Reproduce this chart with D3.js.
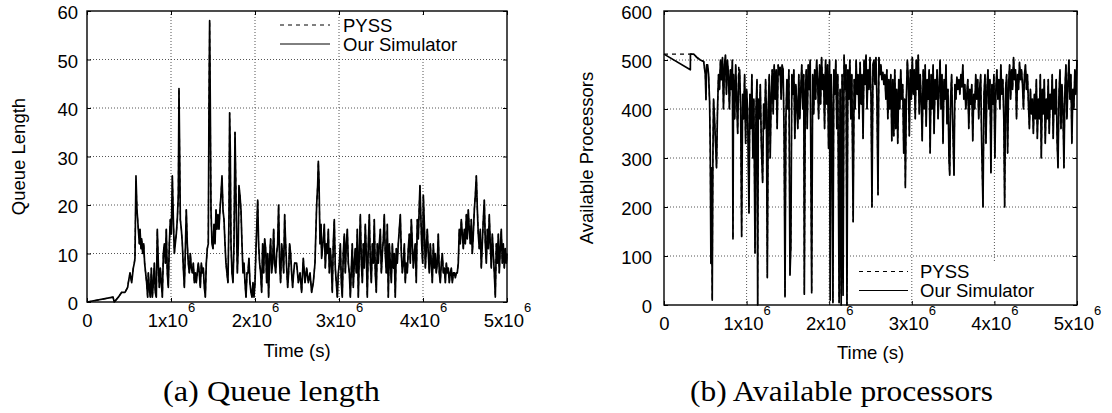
<!DOCTYPE html>
<html><head><meta charset="utf-8">
<script src="https://cdn.jsdelivr.net/npm/d3@7"></script>
<style>html,body{margin:0;padding:0;background:#fff}svg{display:block}</style>
</head><body>
<svg id="c" width="1112" height="413"></svg>
<script>
// ---------------- DATA ----------------
const xTicks = [0, 1e6, 2e6, 3e6, 4e6, 5e6];
const xTickMant = ["0", "1", "2", "3", "4", "5"];
const xTickExp = "6";
const queueTicks = [0, 10, 20, 30, 40, 50, 60];
const procTicks = [0, 100, 200, 300, 400, 500, 600];
const legendLabels = ["PYSS", "Our Simulator"];
const yTitles = ["Queue Length", "Available Processors"];
const xTitle = "Time (s)";
const captions = ["(a) Queue length", "(b) Available processors"];

// time in thousands of seconds
const queueTime = [
0,310,325,373,413,452,484,492,512,532,
551,563,571,583,595,603,611,623,631,643,
651,663,675,686,698,710,722,730,742,754,
766,778,790,802,813,825,837,849,861,873,
885,897,909,921,933,944,956,968,980,992,
1004,1016,1028,1040,1051,1063,1075,1087,1095,1103,
1111,1123,1135,1147,1159,1170,1182,1194,1206,1218,
1230,1242,1254,1266,1278,1290,1301,1313,1325,1337,
1349,1361,1373,1385,1397,1409,1420,1432,1444,1452,
1460,1468,1476,1488,1500,1512,1524,1536,1547,1559,
1571,1583,1595,1607,1619,1631,1643,1654,1666,1678,
1690,1698,1706,1714,1726,1738,1750,1762,1770,1778,
1790,1801,1809,1821,1833,1845,1857,1869,1881,1893,
1905,1916,1928,1940,1952,1964,1976,1988,2000,2012,
2024,2032,2043,2055,2067,2079,2091,2103,2115,2127,
2139,2151,2162,2174,2186,2198,2210,2222,2234,2246,
2258,2270,2281,2293,2305,2317,2329,2341,2353,2365,
2377,2389,2400,2412,2424,2436,2448,2460,2472,2496,
2516,2536,2555,2575,2595,2615,2635,2655,2674,2694,
2714,2734,2746,2754,2762,2774,2786,2793,2813,2825,
2837,2849,2861,2873,2885,2897,2908,2920,2932,2944,
2956,2968,2980,2992,3004,3016,3028,3039,3051,3063,
3075,3087,3099,3111,3123,3135,3147,3158,3170,3182,
3194,3206,3218,3230,3242,3254,3266,3278,3289,3301,
3313,3325,3337,3349,3361,3373,3385,3397,3409,3420,
3432,3444,3456,3468,3480,3492,3504,3516,3528,3539,
3551,3563,3575,3587,3599,3611,3623,3635,3647,3658,
3670,3682,3694,3706,3718,3730,3742,3754,3766,3778,
3789,3801,3813,3825,3837,3849,3861,3873,3885,3897,
3908,3920,3932,3944,3956,3964,3972,3984,3996,4004,
4016,4028,4039,4051,4063,4075,4087,4099,4111,4123,
4135,4147,4158,4170,4182,4194,4206,4218,4230,4242,
4254,4266,4278,4290,4301,4313,4325,4337,4349,4361,
4373,4385,4397,4408,4420,4432,4444,4456,4468,4480,
4492,4504,4516,4527,4539,4551,4563,4575,4587,4599,
4611,4623,4635,4647,4658,4670,4682,4694,4706,4718,
4730,4742,4754,4766,4778,4789,4801,4813,4825,4837,
4849,4861,4873,4885,4897,4908,4920,4932,4944,4956,
4968,4980,4992,5000];

const queueSim = [
0,1,0,1,2,2,3,4,6,4,
7,8,9,26,19,17,15,12,15,11,
13,10,12,8,6,4,1,6,3,1,
7,1,4,8,2,1,15,8,3,7,
4,1,10,12,8,15,6,3,12,17,
14,26,17,10,12,14,17,22,44,31,
17,15,12,7,3,10,19,12,8,6,
10,7,6,8,4,6,4,6,8,6,
3,8,6,7,3,1,8,11,12,40,
58,40,19,12,11,16,12,19,15,18,
15,19,22,26,19,17,12,8,6,4,
17,39,31,12,6,4,12,35,26,17,
6,12,24,22,19,12,6,8,4,1,
6,6,9,4,2,1,4,1,4,11,
17,21,12,8,6,2,12,6,13,11,
4,10,1,9,13,6,8,15,8,6,
10,12,20,8,4,12,10,6,18,12,
7,3,6,12,10,6,3,6,8,8,
4,6,2,9,4,7,4,6,2,4,
8,20,24,29,25,12,16,9,13,16,
7,12,10,15,6,11,8,2,12,17,
7,4,1,6,8,12,4,1,10,14,
6,12,15,8,6,1,7,12,3,8,
11,6,15,1,10,18,8,4,12,7,
16,10,1,12,18,8,4,12,8,17,
6,2,12,8,12,15,6,10,13,18,
10,6,16,1,12,8,4,12,7,10,
1,11,8,12,15,18,10,6,8,12,
4,8,6,11,14,8,17,12,7,10,
12,4,17,13,20,24,19,12,8,22,
16,7,11,15,10,6,12,8,4,12,
7,10,6,8,14,6,4,8,10,6,
7,4,8,6,7,4,6,7,4,6,
6,5,6,6,8,15,12,17,14,11,
15,12,18,13,19,15,12,17,10,14,
19,22,26,19,14,11,15,7,12,17,
21,12,8,15,11,18,12,7,14,10,
6,1,12,8,14,6,11,15,8,12,
7,11,8,10];

const queuePyss = [
0,1,0,1,2,2,3,4,6,4,
7,8,9,25,19,17,15,12,15,11,
13,10,12,8,6,4,1,6,3,1,
7,1,4,8,2,1,15,8,3,7,
4,1,10,12,8,15,6,3,12,17,
14,26,17,10,12,14,17,22,44,30,
17,15,12,7,3,10,19,12,8,6,
10,7,6,8,4,6,4,6,8,6,
3,8,6,7,3,1,8,11,12,40,
58,40,19,12,11,16,12,19,15,18,
15,19,22,26,19,17,12,8,6,4,
17,39,31,12,6,4,12,35,26,17,
6,12,24,22,19,12,6,8,4,1,
6,6,9,4,2,1,4,1,4,11,
17,21,12,8,6,2,12,6,13,11,
4,10,1,9,13,6,8,15,8,6,
10,12,20,8,4,12,10,6,18,12,
7,3,6,12,10,6,3,6,8,8,
4,6,2,9,4,7,4,6,2,4,
8,20,24,29,25,12,16,9,13,16,
7,12,10,15,6,11,8,2,12,17,
7,4,1,6,8,12,4,1,10,14,
6,12,15,8,6,1,7,12,3,8,
11,6,15,1,10,18,8,4,12,7,
16,10,1,12,18,8,4,12,8,17,
6,2,12,8,12,15,6,10,13,18,
10,6,16,1,12,8,4,12,7,10,
1,11,8,12,15,18,10,6,8,12,
4,8,6,11,14,8,17,12,7,10,
12,4,17,13,20,24,19,12,8,22,
16,7,11,15,10,6,12,8,4,12,
7,10,6,8,14,6,4,8,10,6,
7,4,8,6,7,4,6,7,4,6,
6,5,6,6,8,15,12,17,14,11,
15,12,18,13,19,15,12,17,10,14,
19,22,26,19,14,11,15,7,12,17,
21,12,8,15,11,18,12,7,14,10,
6,1,12,8,14,6,11,15,8,12,
7,11,8,10];

const procTime = [
0,319,320,360,400,440,480,500,508,516,
528,540,552,560,568,576,584,592,600,612,
624,636,648,660,672,684,696,708,720,732,
744,756,768,780,792,804,816,828,835,842,
856,868,880,892,904,916,928,940,952,964,
976,988,1000,1012,1029,1040,1052,1064,1076,1088,
1102,1114,1126,1134,1142,1154,1166,1178,1194,1206,
1218,1230,1240,1251,1262,1274,1286,1298,1310,1322,
1334,1346,1358,1370,1382,1394,1406,1418,1430,1442,
1454,1465,1476,1488,1500,1512,1525,1536,1548,1560,
1572,1584,1596,1608,1620,1632,1644,1656,1668,1680,
1692,1699,1710,1722,1734,1746,1758,1770,1788,1800,
1812,1824,1836,1848,1860,1872,1884,1896,1908,1920,
1932,1944,1956,1968,1980,1992,2004,2012,2024,2036,
2045,2056,2068,2080,2092,2104,2120,2132,2145,2156,
2168,2180,2192,2204,2215,2226,2238,2250,2262,2274,
2290,2302,2314,2326,2338,2350,2362,2374,2386,2398,
2410,2422,2434,2446,2458,2470,2482,2494,2506,2518,
2530,2542,2554,2566,2578,2591,2602,2614,2626,2638,
2650,2662,2674,2686,2698,2710,2722,2734,2746,2758,
2770,2782,2794,2806,2818,2830,2842,2854,2866,2878,
2890,2902,2914,2922,2934,2946,2958,2970,2982,2994,
3006,3018,3030,3042,3054,3066,3078,3090,3102,3114,
3126,3138,3150,3162,3174,3186,3198,3210,3222,3234,
3246,3258,3270,3282,3294,3306,3318,3330,3342,3354,
3366,3378,3390,3402,3414,3426,3438,3450,3459,3470,
3482,3494,3511,3522,3534,3546,3558,3570,3582,3594,
3606,3618,3630,3642,3654,3666,3678,3690,3702,3714,
3726,3738,3750,3762,3774,3786,3798,3810,3822,3834,
3846,3862,3874,3886,3898,3910,3922,3934,3946,3958,
3970,3982,3994,4006,4018,4030,4042,4054,4066,4078,
4090,4102,4114,4124,4136,4148,4160,4172,4184,4196,
4208,4220,4232,4244,4256,4268,4280,4292,4304,4316,
4328,4340,4352,4364,4376,4388,4400,4412,4424,4436,
4448,4460,4472,4484,4496,4508,4520,4532,4544,4556,
4568,4580,4592,4604,4616,4628,4640,4652,4664,4676,
4688,4700,4712,4724,4736,4748,4760,4770,4782,4794,
4806,4818,4830,4842,4854,4866,4878,4890,4902,4914,
4926,4938,4950,4962,4974,4986,5000];

const procSim = [
512,480,512,512,505,500,497,470,419,490,
490,470,415,320,85,280,10,300,420,380,
330,280,400,470,440,500,460,505,400,490,
510,430,500,470,400,480,440,500,135,470,
380,490,420,350,470,480,400,140,430,380,
470,330,440,400,188,430,360,470,300,420,
106,400,460,0,420,380,450,330,250,410,
360,460,390,56,400,470,300,430,480,390,
490,420,480,360,490,470,485,420,490,480,
350,17,380,460,400,480,61,120,470,430,
480,340,450,410,360,470,380,440,490,400,
470,22,420,480,360,490,440,500,25,470,
390,480,420,500,460,380,490,410,505,440,
470,360,500,410,490,320,500,10,470,380,
5,480,430,500,360,470,5,440,0,470,
20,510,440,490,0,480,420,500,380,470,
170,460,400,500,430,470,380,495,410,470,
340,500,450,510,400,480,440,505,430,200,
490,500,450,505,420,225,505,470,490,460,
475,450,470,420,480,380,460,400,470,335,
460,345,480,360,440,330,460,400,480,420,
450,310,420,240,420,500,460,345,480,420,
505,430,480,380,500,440,510,390,470,420,
335,480,400,490,365,460,420,480,310,470,
400,490,350,460,420,480,380,440,500,400,
470,330,460,420,490,370,440,300,265,420,
470,380,265,450,420,465,440,460,430,470,
445,490,420,450,400,430,460,360,440,410,
450,335,430,400,470,420,460,380,440,470,
330,200,430,470,330,440,480,400,460,270,
450,410,470,300,440,480,420,460,400,490,
430,460,380,200,440,470,310,450,490,420,
480,440,505,460,480,380,470,440,495,460,
480,450,400,470,490,440,470,410,360,440,
390,420,350,430,380,460,340,420,380,470,
300,440,390,460,330,420,380,460,350,430,
400,470,340,440,390,460,330,280,430,480,
360,450,400,280,440,490,380,450,500,420,
470,330,440,400,480,430,500];

const procPyss = [
512,512,512,512,505,500,497,470,419,490,
490,470,415,320,85,280,10,300,420,380,
330,280,400,470,440,500,460,505,400,490,
510,430,500,470,400,480,440,500,135,470,
380,490,420,350,490,470,400,140,430,380,
470,330,440,400,188,430,360,470,300,420,
106,400,460,0,420,380,450,330,250,410,
360,460,390,56,400,470,300,430,480,390,
490,420,480,360,490,470,485,420,490,480,
350,17,380,460,400,480,61,120,470,430,
480,340,450,410,360,470,380,440,490,400,
470,22,420,480,360,490,440,500,25,470,
390,480,420,500,460,380,490,410,505,440,
470,360,500,410,490,320,500,30,470,380,
5,480,430,500,360,470,5,440,20,470,
45,510,440,490,0,480,420,500,380,470,
170,460,400,500,430,470,380,495,410,470,
340,500,450,510,400,480,440,505,430,200,
490,500,450,505,420,225,505,470,490,460,
475,450,470,420,480,380,460,400,470,335,
460,345,480,360,440,330,460,400,480,420,
450,310,420,240,420,500,460,345,480,420,
505,430,480,380,500,440,510,390,470,420,
335,480,400,490,365,460,420,480,310,470,
400,490,350,460,420,480,380,440,500,400,
470,330,460,420,490,370,440,300,265,420,
470,380,265,450,420,465,440,460,430,470,
445,490,420,450,400,430,460,360,440,410,
450,335,430,400,470,420,460,380,440,470,
330,200,430,470,330,440,480,400,460,270,
450,410,470,300,440,480,420,460,400,490,
430,460,380,200,440,470,310,450,490,420,
480,440,505,460,480,380,470,440,495,460,
480,450,400,470,490,440,470,410,360,440,
390,420,350,430,380,460,340,420,380,470,
300,440,390,460,330,420,380,460,350,430,
400,470,340,440,390,460,330,280,430,480,
360,450,400,280,440,490,380,450,500,420,
470,330,440,400,480,430,500];

// ---------------- LAYOUT ----------------
const FONT = '"Liberation Sans", Arial, Helvetica, sans-serif';
const FS = 18.5;
const svg = d3.select("#c");

const panels = [
  { x0: 87, x1: 507, y0: 11, y1: 302, yMax: 60, yTicks: queueTicks,
    time: queueTime, sim: queueSim, pyss: queuePyss,
    yTitle: yTitles[0], yTitleX: 24.5, yLabEnd: 78, xLabBase: 327, xTitleBase: 357,
    leg: { lx0: 280, lx1: 330, y1: 25, y2: 44, tx: 343, box: [341, 15, 127, 42] },
    caption: captions[0], capX: 163, capW: 217 },
  { x0: 664, x1: 1077, y0: 11, y1: 305, yMax: 600, yTicks: procTicks,
    time: procTime, sim: procSim, pyss: procPyss,
    yTitle: yTitles[1], yTitleX: 593, yLabEnd: 652, xLabBase: 330, xTitleBase: 359,
    leg: { lx0: 859, lx1: 908, y1: 271.5, y2: 290.5, tx: 920, box: [917, 262, 122, 39] },
    caption: captions[1], capX: 690, capW: 303 }
];

function drawPanel(p) {
  if (p.time.length !== p.sim.length || p.time.length !== p.pyss.length)
    console.warn("length mismatch", p.time.length, p.sim.length, p.pyss.length);
  const g = svg.append("g");
  const x = d3.scaleLinear().domain([0, 5e6]).range([p.x0, p.x1]);
  const y = d3.scaleLinear().domain([0, p.yMax]).range([p.y1, p.y0]);

  // grid
  const grid = g.append("g").attr("stroke", "#555").attr("stroke-width", 1)
    .attr("stroke-dasharray", "1,2");
  grid.selectAll("line.gx").data(xTicks.slice(1, -1)).join("line").attr("class", "gx")
    .attr("x1", d => x(d)).attr("x2", d => x(d)).attr("y1", p.y0).attr("y2", p.y1);
  grid.selectAll("line.gy").data(p.yTicks.slice(1, -1)).join("line").attr("class", "gy")
    .attr("y1", d => y(d)).attr("y2", d => y(d)).attr("x1", p.x0).attr("x2", p.x1);

  // data
  const idx = d3.range(p.time.length);
  const mk = arr => d3.line().x(i => x(p.time[i] * 1000)).y(i => y(arr[i]))(idx);
  g.append("path").attr("d", mk(p.pyss)).attr("fill", "none").attr("stroke", "#000")
    .attr("stroke-width", 1.2).attr("stroke-dasharray", "4,4");
  g.append("path").attr("d", mk(p.sim)).attr("fill", "none").attr("stroke", "#000")
    .attr("stroke-width", 1.7).attr("stroke-linejoin", "round");

  // legend
  const L = p.leg;
  g.append("rect").attr("x", L.box[0]).attr("y", L.box[1]).attr("width", L.box[2])
    .attr("height", L.box[3]).attr("fill", "#fff");
  g.append("line").attr("x1", L.lx0).attr("x2", L.lx1).attr("y1", L.y1).attr("y2", L.y1)
    .attr("stroke", "#000").attr("stroke-width", 1).attr("stroke-dasharray", "4,4");
  g.append("line").attr("x1", L.lx0).attr("x2", L.lx1).attr("y1", L.y2).attr("y2", L.y2)
    .attr("stroke", "#000").attr("stroke-width", 1);
  [L.y1, L.y2].forEach((yy, i) => {
    g.append("text").attr("x", L.tx).attr("y", yy + 6.8).attr("font-family", FONT)
      .attr("font-size", FS).attr("fill", "#000").text(legendLabels[i]);
  });

  // axes (inward ticks on all sides)
  const styleAxis = sel => { sel.select(".domain").remove();
    sel.attr("font-family", FONT).attr("font-size", FS);
    sel.selectAll(".tick line").attr("stroke-width", 1); };

  const gB = g.append("g").attr("transform", `translate(0,${p.y1})`)
    .call(d3.axisBottom(x).tickValues(xTicks).tickSizeInner(-4).tickSizeOuter(0)
      .tickFormat((d, i) => xTickMant[i]));
  styleAxis(gB);
  gB.selectAll(".tick text").each(function(d, i) {
    const t = d3.select(this);
    t.text(null).attr("y", p.xLabBase - p.y1).attr("dy", null).attr("fill", "#000");
    if (i === 0) { t.append("tspan").text(xTickMant[i]); }
    else {
      t.append("tspan").text(xTickMant[i] + "x10");
      t.append("tspan").attr("dy", -15).attr("font-size", 13).text(xTickExp);
    }
  });

  const gT = g.append("g").attr("transform", `translate(0,${p.y0})`)
    .call(d3.axisTop(x).tickValues(xTicks).tickSizeInner(-4).tickSizeOuter(0).tickFormat(""));
  styleAxis(gT); gT.selectAll(".tick text").remove();

  const gL = g.append("g").attr("transform", `translate(${p.x0},0)`)
    .call(d3.axisLeft(y).tickValues(p.yTicks).tickSizeInner(-4).tickSizeOuter(0));
  styleAxis(gL);
  gL.selectAll(".tick text").attr("x", p.yLabEnd - p.x0).attr("dy", "0.42em").attr("fill", "#000");

  const gR = g.append("g").attr("transform", `translate(${p.x1},0)`)
    .call(d3.axisRight(y).tickValues(p.yTicks).tickSizeInner(-4).tickSizeOuter(0).tickFormat(""));
  styleAxis(gR); gR.selectAll(".tick text").remove();

  // frame
  g.append("rect").attr("x", p.x0).attr("y", p.y0).attr("width", p.x1 - p.x0)
    .attr("height", p.y1 - p.y0).attr("fill", "none").attr("stroke", "#000").attr("stroke-width", 1.4);

  // titles
  g.append("text").attr("transform", `translate(${p.yTitleX},${(p.y0 + p.y1) / 2}) rotate(-90)`)
    .attr("text-anchor", "middle").attr("font-family", FONT).attr("font-size", FS).text(p.yTitle);
  g.append("text").attr("x", (p.x0 + p.x1) / 2).attr("y", p.xTitleBase).attr("text-anchor", "middle")
    .attr("font-family", FONT).attr("font-size", FS).text(xTitle);

  // caption
  g.append("text").attr("x", p.capX).attr("y", 401)
    .attr("font-family", '"Liberation Serif", "Times New Roman", serif').attr("font-size", 29)
    .attr("textLength", p.capW).attr("lengthAdjust", "spacingAndGlyphs").text(p.caption);
}

panels.forEach(drawPanel);
</script>
</body></html>
